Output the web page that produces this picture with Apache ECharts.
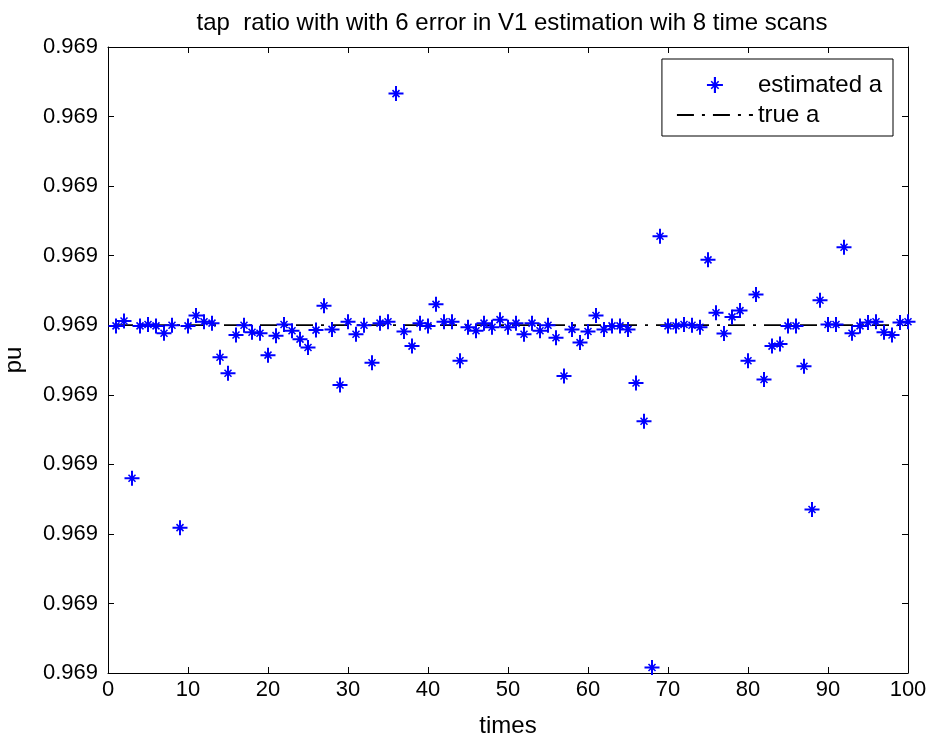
<!DOCTYPE html>
<html>
<head>
<meta charset="utf-8">
<title>tap ratio estimation</title>
<script src="https://cdn.jsdelivr.net/npm/echarts@6/dist/echarts.min.js"></script>
<style>
  html, body { margin: 0; padding: 0; background: #ffffff; }
  #chart { width: 932px; height: 742px; }
</style>
</head>
<body>
<div id="chart"></div>
<script>
// Scan index of each estimate
const times = [
  1, 2, 3, 4, 5, 6, 7, 8, 9, 10,
  11, 12, 13, 14, 15, 16, 17, 18, 19, 20,
  21, 22, 23, 24, 25, 26, 27, 28, 29, 30,
  31, 32, 33, 34, 35, 36, 37, 38, 39, 40,
  41, 42, 43, 44, 45, 46, 47, 48, 49, 50,
  51, 52, 53, 54, 55, 56, 57, 58, 59, 60,
  61, 62, 63, 64, 65, 66, 67, 68, 69, 70,
  71, 72, 73, 74, 75, 76, 77, 78, 79, 80,
  81, 82, 83, 84, 85, 86, 87, 88, 89, 90,
  91, 92, 93, 94, 95, 96, 97, 98, 99, 100
];

// Estimated tap ratio, in y-axis tick steps (every tick prints as 0.969)
const estimatedA = [
  4.99, 5.06, 2.80, 4.99, 5.01, 4.99, 4.885, 5.00, 2.09, 4.99,
  5.14, 5.05, 5.03, 4.54, 4.31, 4.86, 5.00, 4.90, 4.885, 4.57,
  4.85, 5.01, 4.92, 4.80, 4.68, 4.93, 5.28, 4.94, 4.14, 5.05,
  4.87, 5.00, 4.46, 5.03, 5.05, 8.33, 4.91, 4.70, 5.03, 4.99,
  5.30, 5.05, 5.05, 4.49, 4.97, 4.92, 5.03, 4.97, 5.08, 4.97,
  5.03, 4.87, 5.03, 4.92, 5.00, 4.82, 4.27, 4.94, 4.75, 4.91,
  5.14, 4.94, 4.99, 4.99, 4.94, 4.17, 3.62, 0.08, 6.28, 4.99,
  4.99, 5.01, 5.00, 4.97, 5.94, 5.18, 4.88, 5.12, 5.21, 4.49,
  5.44, 4.22, 4.70, 4.73, 4.99, 4.99, 4.41, 2.35, 5.36, 5.01,
  5.01, 6.12, 4.885, 4.99, 5.04, 5.05, 4.90, 4.86, 5.04, 5.05
];

// True tap ratio, same units
const trueA = 5;
const trueRange = [1, 100];

// Axis ticks
const yTickLabel = '0.969';
const xTicks = [0, 10, 20, 30, 40, 50, 60, 70, 80, 90, 100];

// MATLAB-style '*' marker: plus, short diagonals, dark centre
const asterisk = 'path://M13 0L17 0L17 30L13 30Z M0 13L30 13L30 17L0 17Z ' +
  'M6.9 9.1L9.1 6.9L23.1 20.9L20.9 23.1Z M20.9 6.9L23.1 9.1L9.1 23.1L6.9 20.9Z ' +
  'M11 11L19 11L19 19L11 19Z';

const FONT = 'Liberation Sans';
const chart = echarts.init(document.getElementById('chart'), null, { renderer: 'canvas' });

const estPoints = times.map((t, i) => [t, estimatedA[i]]);
const truePoints = trueRange.map(t => [t, trueA]);

const axisLineStyle = { show: true, onZero: false, lineStyle: { color: '#000', width: 1 } };
const inTicks = { show: true, inside: true, length: 6, lineStyle: { color: '#000', width: 1 } };

chart.setOption({
  animation: false,
  backgroundColor: '#ffffff',
  textStyle: { fontFamily: FONT },
  title: {
    text: 'tap  ratio with with 6 error in V1 estimation wih 8 time scans',
    left: 507, textAlign: 'center', top: 6,
    textStyle: { fontFamily: FONT, fontSize: 24, fontWeight: 'normal', color: '#000' }
  },
  grid: { left: 108, right: 24, top: 47, bottom: 69, containLabel: false, outerBoundsMode: 'none' },
  legend: {
    orient: 'vertical',
    right: 39, top: 59,
    padding: [14, 11, 9, 14],
    itemGap: 6,
    itemWidth: 76, itemHeight: 16, itemTextGap: 5,
    backgroundColor: '#fff',
    borderColor: '#000', borderWidth: 1, borderRadius: 0,
    textStyle: { fontFamily: FONT, fontSize: 24, color: '#000' },
    data: [
      { name: 'estimated a', icon: asterisk },
      { name: 'true a', itemStyle: { color: 'rgba(0,0,0,0)', borderWidth: 0 } }
    ]
  },
  xAxis: [
    {
      type: 'value', min: 0, max: 100, interval: 10, position: 'bottom',
      name: 'times', nameLocation: 'middle', nameGap: 41,
      nameTextStyle: { fontFamily: FONT, fontSize: 24, color: '#000' },
      axisLine: axisLineStyle, axisTick: inTicks, splitLine: { show: false },
      axisLabel: { color: '#000', fontFamily: FONT, fontSize: 22, margin: 6 }
    },
    {
      type: 'value', min: 0, max: 100, interval: 10, position: 'top',
      axisLine: axisLineStyle, axisTick: inTicks, splitLine: { show: false },
      axisLabel: { show: false }
    }
  ],
  yAxis: [
    {
      type: 'value', min: 0, max: 9, interval: 1, position: 'left',
      name: 'pu', nameLocation: 'middle', nameGap: 82, nameRotate: 90,
      nameTextStyle: { fontFamily: FONT, fontSize: 24, color: '#000' },
      axisLine: axisLineStyle, axisTick: inTicks, splitLine: { show: false },
      axisLabel: { color: '#000', fontFamily: FONT, fontSize: 22, margin: 10, formatter: () => yTickLabel }
    },
    {
      type: 'value', min: 0, max: 9, interval: 1, position: 'right',
      axisLine: axisLineStyle, axisTick: inTicks, splitLine: { show: false },
      axisLabel: { show: false }
    }
  ],
  series: [
    {
      name: 'true a', type: 'line', data: truePoints,
      symbol: 'none', z: 2,
      lineStyle: { color: '#000', width: 1.8, type: [17, 8, 3, 8] },
      itemStyle: { color: '#000' }
    },
    {
      name: 'estimated a', type: 'scatter', data: estPoints,
      symbol: asterisk, symbolSize: 15, z: 3,
      itemStyle: { color: '#0000ff', opacity: 1 }
    }
  ]
});
</script>
</body>
</html>
